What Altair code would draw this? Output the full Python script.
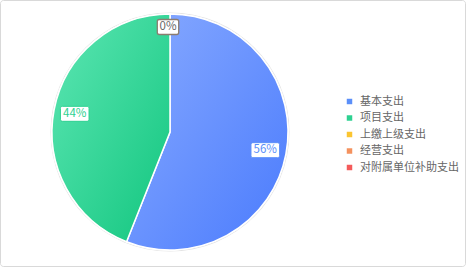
import altair as alt
import pandas as pd

categories = ["基本支出", "项目支出", "上缴上级支出", "经营支出", "对附属单位补助支出"]
values = [56, 44, 0, 0, 0]
colors = ["#5b8ff9", "#2ed191", "#fbc531", "#f4925e", "#f45b5b"]
grad_light = ["#88aaff", "#5de6b3"]
grad_dark = ["#4a7bfd", "#12c67f"]

FONT = "Noto Sans CJK SC"
CX, CY, R, LR = 170, 132, 118, 97

df = pd.DataFrame({"cat": categories, "value": values, "order": list(range(len(categories)))})

base = (
    alt.Chart(df)
    .transform_window(cum="sum(value)", sort=[alt.SortField("order")], frame=[None, 0])
    .transform_joinaggregate(total="sum(value)")
    .transform_calculate(
        a0="2*PI*(datum.cum-datum.value)/datum.total",
        a1="2*PI*datum.cum/datum.total",
    )
    .transform_calculate(mid="(datum.a0+datum.a1)/2")
    .transform_calculate(
        pct="round(100*datum.value/datum.total)+'%'",
        lr=f"datum.value > 0 ? {LR} : 105",
    )
    .transform_calculate(
        px=f"{CX} + datum.lr*sin(datum.mid) - (datum.value > 0 ? 0 : 2)",
        py=f"{CY} - datum.lr*cos(datum.mid)",
    )
    .transform_calculate(
        hw="3.6*length(datum.pct)+3.5",
        bx0="datum.px - datum.hw",
        bx1="datum.px + datum.hw",
        by0="datum.py - 7.5",
        by1="datum.py + 7.5",
    )
)

pos = dict(x=alt.value(CX), y=alt.value(CY))
theta_enc = dict(theta=alt.Theta("a0:Q", scale=None), theta2=alt.Theta2("a1:Q"))

ring = base.transform_filter("datum.order == 0").mark_arc(
    theta=0, theta2=6.2832, outerRadius=R + 1.5, fill="#e4e4e4"
).encode(**pos)

slices = base.mark_arc(outerRadius=R, stroke="white", strokeWidth=1.5).encode(
    **theta_enc,
    **pos,
    color=alt.Color(
        "cat:N",
        scale=alt.Scale(domain=categories, range=colors),
        legend=alt.Legend(
            orient="none",
            legendX=344,
            legendY=96,
            title=None,
            symbolType="square",
            symbolSize=30,
            symbolStrokeWidth=0,
            labelFontSize=11,
            labelFont=FONT,
            labelColor="#666666",
            rowPadding=4.5,
            labelOffset=5,
        ),
    ),
)

grad_layers = []
for i in range(2):
    g = alt.Gradient(
        gradient="linear",
        stops=[
            alt.GradientStop(offset=0, color=grad_light[i]),
            alt.GradientStop(offset=1, color=grad_dark[i]),
        ],
        x1=0, y1=0, x2=1, y2=1,
    )
    grad_layers.append(
        base.transform_filter(f"datum.order == {i}")
        .mark_arc(outerRadius=R, stroke="white", strokeWidth=1.5, fill=g)
        .encode(**theta_enc, **pos)
    )

box_nz = base.transform_filter("datum.value > 0").mark_rect(
    fill="white", strokeWidth=1, cornerRadius=2
).encode(
    x=alt.X("bx0:Q", scale=None),
    x2="bx1:Q",
    y=alt.Y("by0:Q", scale=None),
    y2="by1:Q",
    stroke=alt.Stroke("cat:N", scale=alt.Scale(domain=categories, range=colors), legend=None),
)
box_z = base.transform_filter("datum.value == 0 && datum.order == 2").mark_rect(
    fill="white", stroke="#8c7d70", strokeWidth=1.3, cornerRadius=2
).encode(
    x=alt.X("bx0:Q", scale=None),
    x2="bx1:Q",
    y=alt.Y("by0:Q", scale=None),
    y2="by1:Q",
)
text_nz = base.transform_filter("datum.value > 0").mark_text(
    fontSize=11.5, font=FONT, baseline="middle", align="center"
).encode(
    x=alt.X("px:Q", scale=None),
    y=alt.Y("py:Q", scale=None),
    text="pct:N",
    fill=alt.Fill("cat:N", scale=alt.Scale(domain=categories, range=colors), legend=None),
)
text_z = base.transform_filter("datum.value == 0 && datum.order == 2").mark_text(
    fontSize=11.5, font=FONT, baseline="middle", align="center", fill="#666666"
).encode(
    x=alt.X("px:Q", scale=None),
    y=alt.Y("py:Q", scale=None),
    text="pct:N",
)

border = base.transform_filter("datum.order == 0").mark_rect(
    fillOpacity=0, stroke="#d9d9d9", strokeWidth=1, cornerRadius=3
).encode(x=alt.value(0.5), x2=alt.value(465.5), y=alt.value(0.5), y2=alt.value(266.5))

chart = (
    alt.layer(ring, slices, *grad_layers, box_nz, box_z, text_nz, text_z, border)
    .resolve_scale(fill="independent", stroke="independent")
    .properties(width=466, height=268, autosize=alt.AutoSizeParams(type="none"), padding=0, background="white")
    .configure_view(strokeWidth=0)
)

chart.save("out.html", embed_options={"renderer": "svg", "actions": False})
